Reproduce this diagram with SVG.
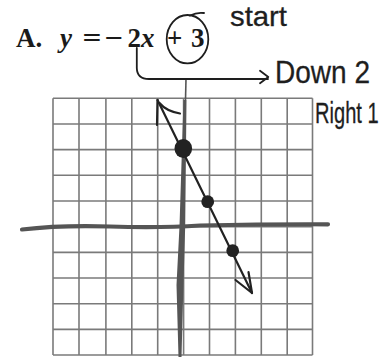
<svg xmlns="http://www.w3.org/2000/svg" width="387" height="359" viewBox="0 0 387 359">
<style>
.eq{font-family:"Liberation Serif","Times New Roman",serif;font-size:27px;font-weight:bold;fill:#1a1a1a}
.it{font-style:italic}
.hand{font-family:"Liberation Sans",Arial,sans-serif;fill:#1e1e1e;stroke:#1e1e1e;stroke-width:0.3}
.grid line{stroke:#7a7a7a;stroke-width:1.6}
.ink{fill:none;stroke:#1e1e1e;stroke-width:1.8;stroke-linecap:round;stroke-linejoin:round}
.pen{fill:none;stroke:#222;stroke-width:2.2;stroke-linecap:round;stroke-linejoin:round}
.dot{fill:#222}
</style>
<rect width="387" height="359" fill="#fff"/>
<g id="grid" class="grid">
<line x1="53" y1="98.3" x2="53" y2="355"/>
<line x1="79" y1="98.3" x2="79" y2="355"/>
<line x1="105.9" y1="98.3" x2="105.9" y2="355"/>
<line x1="131.8" y1="98.3" x2="131.8" y2="355"/>
<line x1="157.7" y1="98.3" x2="157.7" y2="355"/>
<line x1="183.6" y1="98.3" x2="183.6" y2="355"/>
<line x1="209.5" y1="98.3" x2="209.5" y2="355"/>
<line x1="235.4" y1="98.3" x2="235.4" y2="355"/>
<line x1="261.3" y1="98.3" x2="261.3" y2="355"/>
<line x1="287.2" y1="98.3" x2="287.2" y2="355"/>
<line x1="312.5" y1="98.3" x2="312.5" y2="355"/>
<line x1="53" y1="98.3" x2="312.5" y2="98.3"/>
<line x1="53" y1="124" x2="312.5" y2="124"/>
<line x1="53" y1="149.6" x2="312.5" y2="149.6"/>
<line x1="53" y1="175.3" x2="312.5" y2="175.3"/>
<line x1="53" y1="201" x2="312.5" y2="201"/>
<line x1="53" y1="226.7" x2="312.5" y2="226.7"/>
<line x1="53" y1="252.4" x2="312.5" y2="252.4"/>
<line x1="53" y1="278" x2="312.5" y2="278"/>
<line x1="53" y1="303.7" x2="312.5" y2="303.7"/>
<line x1="53" y1="329.4" x2="312.5" y2="329.4"/>
<line x1="53" y1="355" x2="312.5" y2="355"/>
</g>
<g id="axes">
<path d="M22,229.5 Q60,225 110,226.5 T200,225.5 Q270,224 328,224.3" fill="none" stroke="#555" stroke-width="4.2" stroke-linecap="round"/>
<polygon points="183.5,100 179.5,226 176.5,285 178.5,357 181.5,357 183,300 185.2,226 186.5,100" fill="#555"/>
<line x1="186" y1="79" x2="185.5" y2="100" stroke="#555" stroke-width="1.6"/>
</g>
<g id="equation">
<text class="eq" x="16" y="46.5">A.</text>
<text class="eq it" x="60" y="46.5">y</text>
<text class="eq" x="82.5" y="46.5" textLength="19" lengthAdjust="spacingAndGlyphs">=</text>
<text class="eq" x="104.5" y="46.5" textLength="18.5" lengthAdjust="spacingAndGlyphs">−</text>
<text class="eq" x="127.5" y="46.5">2</text>
<text class="eq it" x="141" y="46.5">x</text>
<text class="eq" x="167" y="46.5">+</text>
<text class="eq" x="191" y="46.5">3</text>
</g>
<g id="circle-annotation">
<ellipse class="ink" cx="187.5" cy="39.2" rx="20.8" ry="24.2"/>
<path class="ink" d="M190,15.5 Q197,12 204,13"/>
</g>
<g id="label-start"><text class="hand" x="230" y="26" font-size="28" textLength="57" lengthAdjust="spacingAndGlyphs">start</text></g>
<g id="label-down"><text class="hand" x="275" y="83" font-size="32" textLength="95" lengthAdjust="spacingAndGlyphs">Down 2</text></g>
<g id="label-right"><text class="hand" transform="translate(315,123) scale(0.67,1)" x="0" y="0" font-size="30">Right 1</text></g>
<g id="connectors">
<path class="ink" d="M136.8,48 L136.8,68 Q137,79 149,79 L268,79"/>
<path class="ink" d="M260,70.8 L268.3,77 L260,83.3"/>
<path class="pen" d="M157.5,100 L252,293"/>
<path class="pen" d="M157.5,100 L157,125 M159.5,103 Q166,111 180,113.5"/>
<path class="pen" d="M252,293 L235.5,280 M252,293 L248.5,272"/>
</g>
<g id="points">
<ellipse class="dot" cx="183.3" cy="148.5" rx="8.8" ry="9.6"/>
<circle class="dot" cx="207.7" cy="201.7" r="6.4"/>
<circle class="dot" cx="232.7" cy="250.7" r="6.4"/>
</g>
</svg>
